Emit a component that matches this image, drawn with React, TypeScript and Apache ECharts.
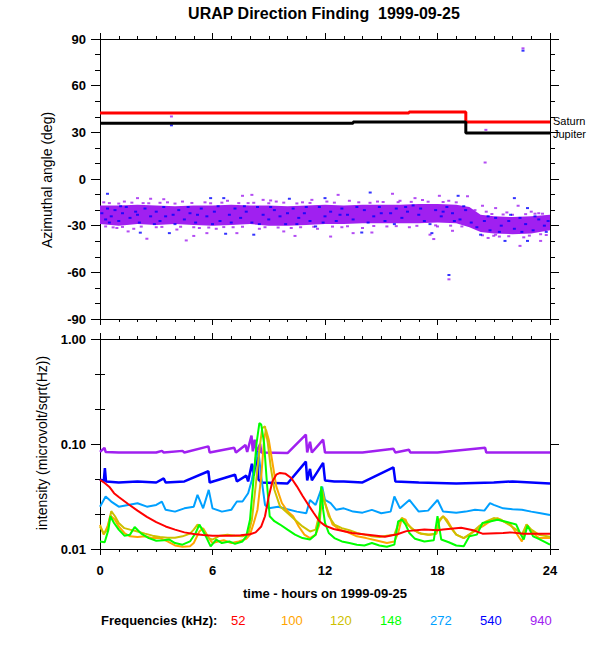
import React, { useEffect, useRef } from "react";
import * as echarts from "echarts";

const FONT = "'Liberation Sans', Arial, Helvetica, sans-serif";

// ---------- axes / ticks ----------
const hourTicks = [0, 6, 12, 18, 24];
const angleTicks = [-90, -60, -30, 0, 30, 60, 90];
const intensityTicks = [0.01, 0.1, 1];

// ---------- colors ----------
const RED = "#ff0000";
const ORANGE = "#ffa500";
const YELLOW = "#cdc000";
const GREEN = "#00ff00";
const LIGHTBLUE = "#00a0ff";
const BLUE = "#0000ff";
const PURPLE = "#a020f0";

// ---------- top panel data ----------
const saturnSteps = [[0, 42.4], [16.48, 43.0], [19.51, 36.6], [24, 36.6]];
const jupiterSteps = [[0, 35.9], [13.5, 36.6], [19.51, 29.5], [24, 29.5]];

const bandHours = [0, 1, 2, 3, 4, 5, 6, 7, 8, 9, 10, 11, 12, 13, 14, 15, 16, 17, 18, 19, 19.7, 20.3, 21, 22, 23, 24];
const bandLow = [-29, -30, -29, -29.5, -29, -29.5, -30, -29.5, -29, -30, -30, -29.5, -29, -29, -28.5, -28.5, -28.5, -28.5, -28, -28.5, -31, -34, -35, -35.5, -35, -33];
const bandHigh = [-17, -17, -16.5, -17, -17.5, -17, -17, -16.5, -17, -17, -17.5, -17, -16.5, -17, -16.5, -16.5, -16.5, -16, -16, -16.5, -18, -23, -24, -24.5, -24, -23];

const blueDots = [
  [0.1, -22], [0.3, -26], [0.4, -19], [0.4, -9.5], [0.6, -24], [0.8, -20], [1.0, -27], [1.2, -22], [1.4, -18], [1.6, -25],
  [1.9, -21], [2.1, -28], [2.15, -34.5], [2.4, -19], [2.7, -24], [3.0, -21], [3.2, -27], [3.4, -18], [3.7, -34.8], [3.9, -23],
  [4.2, -20], [4.5, -26], [4.8, -22], [5.1, -28], [5.4, -19], [5.7, -24], [5.9, -12.3], [6.1, -21], [6.4, -27], [6.6, -12.3],
  [6.7, -35.2], [6.9, -23], [7.2, -19], [7.5, -25], [7.8, -21], [8.1, -28], [8.2, -35.8], [8.4, -18], [8.7, -23], [9.0, -26],
  [9.3, -20], [9.6, -24], [9.9, -29], [10.1, -12.7], [10.3, -19], [10.6, -25], [10.9, -22], [11.2, -27], [11.5, -30.5], [11.7, -18],
  [12.0, -12.3], [12.0, -24], [12.3, -21], [12.6, -27], [12.9, -19], [13.2, -23], [13.5, -26], [13.96, -34.4], [14.1, -20], [14.41, -8.7],
  [14.6, -24], [14.9, -18], [15.2, -27], [15.5, -22], [15.8, -19], [16.1, -25], [16.4, -21], [16.7, -17], [17.0, -23], [17.3, -27],
  [17.7, -34.8], [17.9, -20], [18.2, -24], [18.5, -18], [18.8, -22], [19.1, -10.8], [19.2, -26], [19.5, -20], [19.8, -28], [20.1, -31],
  [20.3, -35.8], [20.5, -27], [20.8, -33], [21.1, -25], [21.4, -30], [21.6, -39.8], [21.8, -27], [22.1, -12.3], [22.1, -32], [22.4, -25],
  [22.7, -29], [22.8, -18.7], [22.8, -39.8], [23.1, -33], [23.4, -26], [23.7, -30], [23.9, -27], [3.81, 34.5], [18.61, -61.7], [22.56, 82.5],
  [0.5, -28], [1.1, -17.5], [2.0, -23], [2.9, -29], [3.5, -24], [4.0, -29], [4.7, -18], [5.2, -23], [6.0, -29], [6.3, -17.5],
  [7.0, -28], [7.7, -17.5], [8.5, -29], [9.1, -18], [10.0, -22], [10.5, -29], [11.0, -18], [11.9, -28], [12.8, -23], [13.7, -18],
  [14.3, -28], [15.0, -22], [15.7, -29], [16.3, -18], [17.1, -19], [17.6, -29], [18.3, -21], [18.9, -27], [19.4, -17.5], [20.7, -24],
  [21.3, -34], [21.9, -23], [22.5, -34], [23.2, -24], [23.8, -34]
];

const purpleDots = [
  [0.7, -31.1], [1.5, -33.7], [2.0, -12.3], [2.5, -38.4], [2.7, -12.7], [3.4, -13], [4.6, -39.5], [5.0, -36.6], [5.7, -34.8], [7.3, -34.8],
  [7.6, -10.8], [8.1, -10.2], [8.7, -13.4], [9.1, -13.8], [9.8, -33.7], [10.4, -36.6], [11.3, -13.4], [12.3, -37], [12.7, -10.2], [13.5, -34.8],
  [14.5, -34.4], [15.6, -9.5], [16.8, -12.3], [17.6, -35.8], [17.8, -38.6], [18.1, -10.8], [18.8, -33.3], [19.6, -11.1], [20.4, -17.2], [20.7, -37.9],
  [21.1, -18.7], [21.1, -35.8], [22.3, -17.2], [22.4, -43], [23.2, -22.3], [23.5, -39.8], [23.6, -22.3], [3.81, 40.2], [18.61, -64.5], [20.58, 31.6],
  [20.54, 10.6], [22.56, 84],
  [0.2, -15], [0.9, -31.5], [1.3, -14.5], [1.8, -32], [2.3, -15.5], [3.0, -31], [3.6, -15], [4.1, -32.5], [4.4, -14.5], [5.3, -31.5],
  [5.6, -15], [6.2, -32], [6.8, -14], [7.1, -31], [7.9, -15.5], [8.5, -32], [9.4, -14.5], [10.2, -31.5], [10.8, -15], [11.6, -32],
  [12.1, -14.5], [12.9, -31], [13.3, -14], [14.0, -31.5], [14.8, -14.5], [15.3, -30.5], [16.0, -14], [16.5, -31], [17.2, -13.5], [18.0, -30.5],
  [18.6, -14], [19.3, -30.5], [20.0, -20], [20.6, -21], [21.3, -37], [21.7, -21.5], [22.6, -37.5], [23.0, -21], [23.8, -36],
  [0.5, -15.5], [1.0, -15.8], [1.7, -15.2], [2.6, -15.6], [3.2, -15.3], [4.0, -15.8], [4.9, -15.4], [5.9, -15.6], [6.5, -15.2], [7.4, -15.5],
  [8.2, -15.3], [9.0, -15.6], [9.8, -15.2], [10.5, -15.7], [11.2, -15.4], [12.5, -15.2], [13.8, -15.0], [14.4, -15.3], [15.1, -14.8], [15.9, -14.9],
  [16.6, -14.7], [17.5, -14.6], [18.3, -14.8], [19.0, -15.0],
  [0.3, -30.5], [1.2, -30.8], [2.2, -30.6], [3.3, -30.8], [4.3, -30.7], [5.0, -31], [5.8, -31.2], [6.6, -30.9], [7.6, -30.7], [8.8, -31],
  [9.5, -31.2], [10.7, -31], [11.4, -30.7], [12.4, -30.6], [13.2, -30.4], [14.6, -30.2], [15.8, -30.3], [16.9, -30.1], [17.9, -29.8], [18.7, -30],
  [20.4, -36.2], [21.0, -36.5], [21.8, -36.8], [22.9, -36.4], [23.5, -35.5], [20.9, -22.5], [21.5, -22.8], [22.0, -23], [22.7, -22.6], [23.4, -22]
];

// ---------- bottom panel data (hour, microvolt/sqrt(Hz)) ----------
const f52 = [
  [0, 0.0457], [0.25, 0.0425], [0.5, 0.039], [0.75, 0.034], [1, 0.0313], [1.5, 0.0268], [2, 0.0232], [2.5, 0.0202], [3, 0.018], [3.5, 0.0164],
  [4, 0.0153], [4.5, 0.0144], [5, 0.0139], [5.5, 0.0136], [6, 0.0134], [7, 0.0134], [7.5, 0.0135], [8, 0.0138], [8.3, 0.0144], [8.6, 0.0164],
  [8.8, 0.0205], [9, 0.0317], [9.2, 0.0441], [9.4, 0.051], [9.6, 0.053], [9.9, 0.052], [10.2, 0.0475], [10.5, 0.0395], [10.8, 0.0322], [11.1, 0.0265],
  [11.4, 0.022], [11.7, 0.0184], [12, 0.0167], [12.46, 0.0155], [13.44, 0.0142], [14.4, 0.0136], [15.2, 0.0131], [15.86, 0.0138], [16.34, 0.0148], [17.3, 0.0153],
  [18, 0.0151], [18.3, 0.0153], [19.26, 0.0159], [19.9, 0.0151], [20.4, 0.014], [21.5, 0.0142], [21.9, 0.0144], [22.6, 0.014], [23.4, 0.014], [24, 0.014]
];
const f100 = [
  [0, 0.017], [0.2, 0.0137], [0.4, 0.0164], [0.55, 0.0208], [0.8, 0.019], [1, 0.0164], [1.3, 0.0142], [1.6, 0.0132], [2, 0.013], [2.4, 0.0132],
  [2.8, 0.0127], [3.2, 0.0127], [3.6, 0.0118], [4, 0.0108], [4.4, 0.0105], [4.8, 0.0106], [5, 0.0114], [5.3, 0.0147], [5.5, 0.0158], [5.8, 0.0127],
  [6, 0.0114], [6.3, 0.0118], [6.6, 0.0121], [7, 0.0114], [7.4, 0.0118], [7.8, 0.0125], [8, 0.0137], [8.2, 0.0177], [8.4, 0.0237], [8.6, 0.0492],
  [8.75, 0.11], [8.85, 0.137], [9, 0.11], [9.2, 0.066], [9.4, 0.0395], [9.7, 0.0274], [10, 0.0229], [10.3, 0.0205], [10.6, 0.0164], [10.9, 0.0137],
  [11.2, 0.0127], [11.5, 0.0137], [11.7, 0.0171], [11.85, 0.0317], [12, 0.0274], [12.25, 0.0205], [12.4, 0.0171], [12.8, 0.0153], [13.1, 0.0147], [13.7, 0.0132],
  [14.2, 0.0127], [14.7, 0.0121], [15.3, 0.0114], [15.7, 0.0118], [15.9, 0.0142], [16.1, 0.0197], [16.3, 0.019], [16.4, 0.0171], [16.7, 0.0153], [17.1, 0.014],
  [17.6, 0.0137], [17.95, 0.014], [18.1, 0.019], [18.3, 0.0205], [18.5, 0.019], [18.8, 0.0153], [19, 0.0137], [19.4, 0.0127], [19.7, 0.0137], [20.1, 0.0153],
  [20.4, 0.0164], [20.8, 0.0183], [21.2, 0.0197], [21.5, 0.0183], [21.9, 0.0171], [22.2, 0.0142], [22.5, 0.0118], [22.75, 0.0171], [23.1, 0.0142], [23.4, 0.0127],
  [24, 0.0127]
];
const f120 = [
  [0, 0.0164], [0.2, 0.014], [0.4, 0.0153], [0.6, 0.0229], [0.8, 0.0205], [1, 0.0177], [1.3, 0.0158], [1.6, 0.0153], [2, 0.0147], [2.4, 0.014],
  [2.8, 0.0134], [3.2, 0.013], [3.6, 0.0128], [4, 0.0128], [4.4, 0.0132], [4.8, 0.014], [5, 0.0153], [5.2, 0.0171], [5.5, 0.0153], [5.8, 0.0127],
  [6, 0.0123], [6.4, 0.0134], [6.8, 0.0137], [7.2, 0.0134], [7.6, 0.0132], [7.9, 0.0137], [8.1, 0.019], [8.3, 0.0395], [8.5, 0.088], [8.65, 0.142],
  [8.8, 0.147], [8.95, 0.102], [9.1, 0.0612], [9.3, 0.0367], [9.6, 0.0255], [10, 0.022], [10.4, 0.019], [10.8, 0.0164], [11.2, 0.0147], [11.5, 0.0153],
  [11.75, 0.0237], [11.85, 0.0367], [12, 0.0274], [12.2, 0.0205], [12.5, 0.0171], [12.9, 0.0158], [13.3, 0.0151], [13.7, 0.0142], [14.1, 0.0137], [14.5, 0.0132],
  [14.9, 0.013], [15.3, 0.0134], [15.7, 0.0137], [15.9, 0.0171], [16.1, 0.0197], [16.3, 0.0183], [16.6, 0.0158], [17, 0.0142], [17.5, 0.0137], [17.9, 0.014],
  [18.1, 0.0183], [18.3, 0.0205], [18.6, 0.0171], [19, 0.0137], [19.4, 0.0127], [19.8, 0.0142], [20.2, 0.0164], [20.6, 0.0183], [21, 0.0197], [21.4, 0.019],
  [21.8, 0.0171], [22.2, 0.0153], [22.5, 0.0137], [22.75, 0.0171], [23, 0.0153], [23.4, 0.0137], [24, 0.0131]
];
const f148 = [
  [0, 0.0118], [0.25, 0.0116], [0.45, 0.0153], [0.55, 0.0205], [0.75, 0.0177], [1, 0.0153], [1.3, 0.0134], [1.6, 0.0137], [1.85, 0.0162], [2.2, 0.014],
  [2.6, 0.0127], [3, 0.012], [3.4, 0.0121], [3.7, 0.0123], [4, 0.0114], [4.4, 0.011], [4.8, 0.0118], [5.1, 0.0142], [5.3, 0.0171], [5.6, 0.0137],
  [5.9, 0.0106], [6.2, 0.0123], [6.5, 0.0114], [6.9, 0.0118], [7.2, 0.0112], [7.6, 0.0118], [7.8, 0.0132], [8, 0.019], [8.2, 0.049], [8.35, 0.102],
  [8.5, 0.158], [8.6, 0.153], [8.75, 0.102], [8.9, 0.043], [9.05, 0.0205], [9.3, 0.0184], [9.6, 0.0171], [10, 0.0153], [10.4, 0.0137], [10.8, 0.0127],
  [11.2, 0.0123], [11.5, 0.0137], [11.7, 0.019], [11.8, 0.0395], [11.9, 0.0237], [12, 0.0177], [12.2, 0.0142], [12.5, 0.0127], [12.9, 0.0118], [13.3, 0.0114],
  [13.7, 0.011], [14.1, 0.0108], [14.5, 0.0114], [14.9, 0.0108], [15.3, 0.0105], [15.7, 0.011], [15.9, 0.0183], [16.1, 0.019], [16.3, 0.0171], [16.5, 0.0142],
  [16.8, 0.0125], [17.3, 0.0118], [17.8, 0.0121], [18, 0.0205], [18.2, 0.0123], [18.6, 0.0116], [19, 0.0108], [19.4, 0.0106], [19.7, 0.0132], [20.1, 0.0137],
  [20.4, 0.0177], [20.8, 0.0183], [21.2, 0.019], [21.6, 0.0183], [22.2, 0.0171], [22.4, 0.0142], [22.6, 0.0123], [22.8, 0.0167], [23.1, 0.0132], [23.4, 0.0125],
  [24, 0.011]
];
const f272 = [
  [0, 0.0253], [0.3, 0.0316], [0.6, 0.0283], [1, 0.0253], [1.5, 0.0263], [2, 0.0273], [2.5, 0.0253], [3, 0.0263], [3.3, 0.0283], [3.5, 0.0236],
  [4, 0.0227], [4.5, 0.0244], [5, 0.0253], [5.2, 0.0328], [5.5, 0.0244], [5.8, 0.0366], [6, 0.0244], [6.5, 0.0227], [7, 0.0236], [7.3, 0.0283],
  [7.6, 0.0283], [7.9, 0.034], [8.1, 0.0455], [8.3, 0.0706], [8.45, 0.0848], [8.6, 0.049], [8.8, 0.0263], [9, 0.0244], [9.5, 0.0253], [10, 0.0239],
  [10.5, 0.0227], [11, 0.0219], [11.2, 0.0293], [11.5, 0.0263], [11.85, 0.0393], [12, 0.0293], [12.3, 0.0273], [12.6, 0.0236], [13, 0.0244], [13.5, 0.0227],
  [14, 0.0222], [14.5, 0.0236], [15, 0.0219], [15.5, 0.0227], [15.7, 0.0316], [16, 0.0244], [16.5, 0.0293], [17, 0.0227], [17.5, 0.0232], [18, 0.0293],
  [18.3, 0.0227], [19, 0.0222], [19.5, 0.0227], [20, 0.0236], [20.5, 0.0232], [20.8, 0.0273], [21, 0.0263], [21.5, 0.0244], [22, 0.0239], [22.5, 0.0236],
  [23, 0.0227], [23.5, 0.0219], [24, 0.0211]
];
const f540 = [
  [0, 0.046], [0.2, 0.044], [0.26, 0.059], [0.32, 0.044], [1, 0.043], [2, 0.044], [3, 0.043], [3.4, 0.047], [3.5, 0.043], [4.5, 0.044],
  [5.78, 0.055], [5.85, 0.043], [7.2, 0.051], [7.3, 0.044], [7.8, 0.05], [7.9, 0.044], [8.1, 0.065], [8.2, 0.05], [8.37, 0.085], [8.45, 0.046],
  [8.6, 0.043], [10, 0.042], [10.98, 0.068], [11.05, 0.045], [11.2, 0.058], [11.3, 0.045], [11.9, 0.066], [12, 0.045], [12.5, 0.044], [13, 0.044],
  [14, 0.043], [15.65, 0.06], [15.75, 0.044], [17, 0.043], [19, 0.042], [21, 0.043], [22, 0.044], [24, 0.042]
];
const f940 = [
  [0, 0.084], [0.24, 0.092], [0.3, 0.084], [1, 0.083], [2, 0.083], [3, 0.083], [3.3, 0.086], [3.4, 0.083], [4.4, 0.086], [4.5, 0.083],
  [5.78, 0.095], [5.85, 0.083], [7.16, 0.092], [7.25, 0.083], [7.76, 0.098], [7.85, 0.084], [8.08, 0.12], [8.15, 0.085], [8.25, 0.11], [8.35, 0.084],
  [8.54, 0.1], [8.6, 0.083], [10.0, 0.082], [10.98, 0.123], [11.05, 0.083], [11.2, 0.105], [11.3, 0.083], [11.9, 0.11], [12.0, 0.083], [14, 0.083],
  [15.65, 0.09], [15.75, 0.083], [16.48, 0.088], [16.55, 0.083], [18, 0.083], [20.54, 0.092], [20.6, 0.083], [22, 0.083], [24, 0.083]
];

const freqLabels = ["52", "100", "120", "148", "272", "540", "940"];
const freqColors = [RED, ORANGE, YELLOW, GREEN, LIGHTBLUE, BLUE, PURPLE];

// ---------- option builders ----------
const labelStyle = { color: "#000", fontFamily: FONT, fontSize: 13, fontWeight: "bold" as const };

function xAxis(gridIndex: number, position: string, showLabel: boolean) {
  return {
    type: "value", gridIndex, position,
    min: hourTicks[0], max: hourTicks[hourTicks.length - 1], interval: hourTicks[1] - hourTicks[0],
    axisLine: { show: true, onZero: false, lineStyle: { color: "#000", width: 1 } },
    axisTick: { show: true, inside: false, length: 6, lineStyle: { color: "#000", width: 1 } },
    minorTick: { show: true, splitNumber: 6, length: 3, lineStyle: { color: "#000", width: 1 } },
    axisLabel: showLabel ? { show: true, margin: 15, ...labelStyle } : { show: false },
    splitLine: { show: false }, minorSplitLine: { show: false },
  };
}

function yAngle(position: string, showLabel: boolean) {
  return {
    type: "value", gridIndex: 0, position,
    min: angleTicks[0], max: angleTicks[angleTicks.length - 1], interval: angleTicks[1] - angleTicks[0],
    axisLine: { show: true, onZero: false, lineStyle: { color: "#000", width: 1 } },
    axisTick: { show: true, inside: false, length: 9, lineStyle: { color: "#000", width: 1 } },
    minorTick: { show: true, splitNumber: 3, length: 5, lineStyle: { color: "#000", width: 1 } },
    axisLabel: showLabel ? { show: true, margin: 14, ...labelStyle } : { show: false },
    splitLine: { show: false }, minorSplitLine: { show: false },
  };
}

function yLog(position: string, showLabel: boolean) {
  return {
    type: "log", logBase: 10, gridIndex: 1, position,
    min: intensityTicks[0], max: intensityTicks[intensityTicks.length - 1],
    axisLine: { show: true, onZero: false, lineStyle: { color: "#000", width: 1 } },
    axisTick: { show: true, inside: false, length: 9, lineStyle: { color: "#000", width: 1 } },
    axisLabel: showLabel
      ? { show: true, margin: 14, ...labelStyle, formatter: (v: number) => Number(v).toFixed(2) }
      : { show: false },
    splitLine: { show: false },
  };
}

// helper axis carrying the 1/3-decade minor ticks of the log axis
function yLogMinor(position: string) {
  return {
    type: "value", gridIndex: 1, position,
    min: Math.log10(intensityTicks[0]), max: Math.log10(intensityTicks[intensityTicks.length - 1]), interval: 1,
    axisLine: { show: false },
    axisTick: { show: false },
    minorTick: { show: true, splitNumber: 3, length: 5, lineStyle: { color: "#000", width: 1 } },
    axisLabel: { show: false },
    splitLine: { show: false }, minorSplitLine: { show: false },
  };
}

function freqLine(name: string, data: number[][], color: string, width = 2) {
  return {
    name, type: "line", xAxisIndex: 2, yAxisIndex: 2, data,
    symbol: "none", showSymbol: false, silent: true,
    lineStyle: { color, width }, itemStyle: { color },
  };
}

function buildOption() {
  const graphics: any[] = [
    {
      type: "text", x: 324, y: 13,
      style: { text: "URAP Direction Finding  1999-09-25", fill: "#000", font: `bold 16px ${FONT}`, align: "center", verticalAlign: "middle" },
    },
    {
      type: "text", x: 47, y: 180, rotation: Math.PI / 2,
      style: { text: "Azimuthal angle (deg)", fill: "#000", font: `14px ${FONT}`, align: "center", verticalAlign: "middle" },
    },
    {
      type: "text", x: 42, y: 443, rotation: Math.PI / 2,
      style: { text: "intensity (microvolt/sqrt(Hz))", fill: "#000", font: `14px ${FONT}`, align: "center", verticalAlign: "middle" },
    },
    {
      type: "text", x: 325, y: 593,
      style: { text: "time - hours on 1999-09-25", fill: "#000", font: `bold 13px ${FONT}`, align: "center", verticalAlign: "middle" },
    },
    {
      type: "text", x: 101, y: 620,
      style: { text: "Frequencies (kHz):", fill: "#000", font: `bold 13px ${FONT}`, align: "left", verticalAlign: "middle" },
    },
  ];
  const legendX = [231, 281, 330, 380, 430, 480, 530];
  freqLabels.forEach((t, i) => {
    graphics.push({
      type: "text", x: legendX[i], y: 620,
      style: { text: t, fill: freqColors[i], font: `13px ${FONT}`, align: "left", verticalAlign: "middle" },
    });
  });

  const endLabel = (text: string, dy: number) => ({
    show: true, formatter: text, color: "#000", fontFamily: FONT, fontSize: 11, lineHeight: 10, distance: 3, offset: [0, dy],
  });

  return {
    animation: false,
    backgroundColor: "#fff",
    grid: [
      { left: 100, top: 39, width: 450, height: 280, containLabel: false },
      { left: 100, top: 339, width: 450, height: 210, containLabel: false },
    ],
    xAxis: [xAxis(0, "bottom", false), xAxis(0, "top", false), xAxis(1, "bottom", true), xAxis(1, "top", false)],
    yAxis: [yAngle("left", true), yAngle("right", false), yLog("left", true), yLog("right", false), yLogMinor("left"), yLogMinor("right")],
    graphic: graphics,
    series: [
      {
        name: "cloud", type: "custom", xAxisIndex: 0, yAxisIndex: 0, silent: true, clip: true,
        data: bandHours.map((h, i) => [h, bandLow[i], bandHigh[i]]),
        encode: { x: 0, y: [1, 2] },
        renderItem: (params: any, api: any) => {
          if (params.dataIndex !== 0) return null;
          const upper = bandHours.map((h, i) => api.coord([h, bandHigh[i]]));
          const lower = bandHours.map((h, i) => api.coord([h, bandLow[i]])).reverse();
          return { type: "polygon", shape: { points: upper.concat(lower) }, style: { fill: PURPLE } };
        },
      },
      {
        name: "purpleDots", type: "scatter", xAxisIndex: 0, yAxisIndex: 0, data: purpleDots,
        symbol: "rect", symbolSize: [3, 2], itemStyle: { color: PURPLE }, silent: true,
      },
      {
        name: "blueDots", type: "scatter", xAxisIndex: 0, yAxisIndex: 0, data: blueDots,
        symbol: "rect", symbolSize: [3, 2], itemStyle: { color: BLUE }, silent: true,
      },
      {
        name: "Saturn", type: "line", xAxisIndex: 0, yAxisIndex: 0, data: saturnSteps, step: "end",
        symbol: "none", lineStyle: { color: RED, width: 3 }, itemStyle: { color: RED }, endLabel: endLabel("Saturn", -1), silent: true,
      },
      {
        name: "Jupiter", type: "line", xAxisIndex: 0, yAxisIndex: 0, data: jupiterSteps, step: "end",
        symbol: "none", lineStyle: { color: "#000", width: 3 }, itemStyle: { color: "#000" }, endLabel: endLabel("Jupiter", 1), silent: true,
      },
      freqLine("940", f940, PURPLE, 2.5),
      freqLine("540", f540, BLUE, 2.5),
      freqLine("272", f272, LIGHTBLUE, 2),
      freqLine("100", f100, ORANGE, 2),
      freqLine("120", f120, YELLOW, 2),
      freqLine("148", f148, GREEN, 2),
      freqLine("52", f52, RED, 2),
    ],
  };
}

export default function App() {
  const ref = useRef<HTMLDivElement>(null);
  useEffect(() => {
    document.body.style.margin = "0";
    const chart = echarts.init(ref.current as HTMLDivElement, null, { renderer: "svg" });
    chart.setOption(buildOption() as any);
    return () => chart.dispose();
  }, []);
  return <div ref={ref} style={{ width: 600, height: 650, background: "#fff" }} />;
}
